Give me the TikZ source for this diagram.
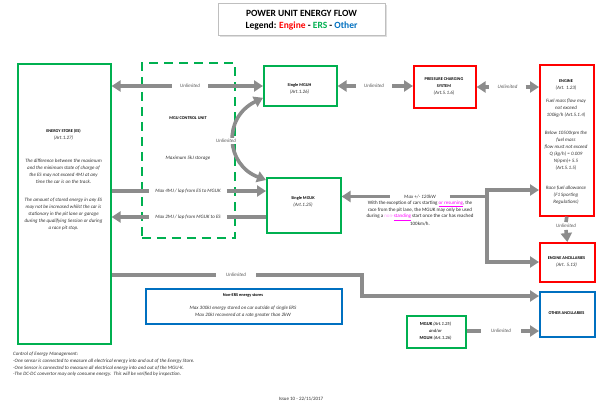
\documentclass[tikz,border=0pt]{standalone}
\usepackage{fontspec}
\setmainfont{Carlito}
\usetikzlibrary{arrows.meta,shadows,calc}
\definecolor{ggreen}{HTML}{00B050}
\definecolor{rred}{HTML}{FF0000}
\definecolor{bblue}{HTML}{0070C0}
\definecolor{agray}{HTML}{8C8C8C}
\definecolor{mag}{HTML}{FF00FF}
\begin{document}
\begin{tikzpicture}[x=1pt,y=-1pt,
  >={Triangle[length=9pt,width=11pt]},
  box/.style={line width=1.6pt,anchor=north west,inner sep=0pt,rectangle},
  gbox/.style={box,draw=ggreen},
  rbox/.style={box,draw=rred},
  bbox/.style={box,draw=bblue},
  dbox/.style={box,draw=ggreen,dash pattern=on 9pt off 6pt},
  arr/.style={draw=agray,line width=3.6pt},
  lbl/.style={font=\fontsize{5}{6}\selectfont\itshape,text=black!65,inner xsep=8pt,inner ysep=1pt},
  hd/.style={font=\fontsize{4.3}{7}\selectfont\bfseries,inner sep=0pt,align=center},
  it/.style={font=\fontsize{5}{7}\selectfont\itshape,text=black!80,inner sep=0pt,align=center},
  up/.style={font=\fontsize{5}{6.3}\selectfont,text=black!85,inner sep=0pt,align=center},
]
\useasboundingbox[fill=white] (0,0) rectangle (600,405);

% title
\node[box,draw=black!25,line width=0.6pt,fill=white,minimum width=167pt,minimum height=32pt,
  drop shadow={shadow xshift=1.2pt,shadow yshift=-1.2pt,opacity=0.25}] (title) at (218,3) {};
\node[font=\fontsize{9.5}{11}\selectfont\bfseries,inner sep=0pt] (t1) at (301.5,13) {POWER UNIT ENERGY FLOW};
\node[font=\fontsize{9.5}{11}\selectfont\bfseries,inner sep=0pt] (t2) at (301.5,26)
  {Legend: \textcolor{rred}{Engine} - \textcolor{ggreen}{ERS} - \textcolor{bblue}{Other}};

% boxes
\node[gbox,minimum width=93pt,minimum height=280pt] (es) at (17,63) {};
\node[dbox,minimum width=93pt,minimum height=175pt] (cu) at (141,62) {};
\node[gbox,minimum width=73pt,minimum height=40pt] (mguh) at (263,65) {};
\node[gbox,minimum width=74pt,minimum height=55pt] (mguk) at (266,177) {};
\node[rbox,minimum width=62pt,minimum height=42pt] (pcs) at (413,65) {};
\node[rbox,minimum width=54pt,minimum height=151pt] (engine) at (539,64) {};
\node[rbox,minimum width=55pt,minimum height=39pt] (ea) at (539,242) {};
\node[bbox,minimum width=55pt,minimum height=45pt] (oa) at (539,291) {};
\node[gbox,minimum width=59pt,minimum height=32pt] (small) at (406,315) {};
\node[bbox,minimum width=196pt,minimum height=35pt] (nonERS) at (145,288) {};

% texts in boxes
\node[hd] (esh) at (63.5,131) {ENERGY STORE (ES)};
\node[it] (esa) at (63.5,138) {(Art.1.27)};
\node[it,anchor=north] (esp1) at (63.5,158.5) {The difference between the maximum\\and the minimum state of charge of\\the ES may not exceed 4MJ at any\\time the car is on the track.};
\node[it,anchor=north] (esp2) at (63.5,197.5) {The amount of stored energy in any ES\\may not be increased whilst the car is\\stationary in the pit lane or garage\\during the qualifying Session or during\\a race pit stop.};

\node[hd] (cuh) at (188,118) {MGU CONTROL UNIT};
\node[it] (cus) at (188,158) {Maximum 5kJ storage};

\node[hd] (mguht) at (299.5,85) {Single MGUH};
\node[it] (mguha) at (299.5,92) {(Art.1.26)};
\node[hd] (mgukt) at (303,198) {Single MGUK};
\node[it] (mguka) at (303,205) {(Art.1.25)};

\node[hd,anchor=north] (pcst) at (444,77.5) {PRESSURE CHARGING\\SYSTEM};
\node[it] (pcsa) at (444,93) {(Art.5.1.6)};

\node[hd] (engt) at (566,81) {ENGINE};
\node[it,anchor=north] (enga) at (566,85.5) {(Art. 1.23)\\[6pt]Fuel mass flow may\\not exceed\\100kg/h (Art.5.1.4)\\[11pt]Below 10500rpm the\\fuel mass\\flow must not exceed\\Q (kg/h) = 0.009\\N(rpm)+ 5.5\\(Art.5.1.5)\\[13pt]Race fuel allowance\\(F1 Sporting\\Regulations)};

\node[hd] (eat) at (566.5,258) {ENGINE ANCILLARIES};
\node[it] (eaa) at (566.5,265) {(Art. 5.13)};
\node[hd] (oat) at (566.5,313) {OTHER ANCILLARIES};

\node[font=\fontsize{4.6}{7}\selectfont,inner sep=0pt,align=center,anchor=north] (smallt) at (435.5,321.5)
  {\textbf{MGUK} \textit{(Art.1.25)}\\\textit{and/or}\\\textbf{MGUH} \textit{(Art.1.26)}};

\node[hd] (net) at (243,295) {Non-ERS energy stores};
\node[it,anchor=north] (nep) at (243,305.5) {Max 300kJ energy stored on car outside of single ERS\\Max 20kJ recovered at a rate greater than 2kW};

% connectors
\node[lbl] (l1) at (190,86) {Unlimited};
\draw[arr,<-] (es.east |- l1) -- (l1.west);
\draw[arr,->] (l1.east) -- (mguh.west |- l1);

\node[lbl] (l2) at (374,86) {Unlimited};
\draw[arr,<-] (mguh.east |- l2) -- (l2.west);
\draw[arr,->] (l2.east) -- (pcs.west |- l2);

\node[lbl] (l3) at (507.5,87) {Unlimited};
\draw[arr,<-] (pcs.east |- l3) -- (l3.west);
\draw[arr,->] (l3.east) -- (engine.west |- l3);

\draw[arr,<->] ([shift={(0,3)}]mguk.north west) .. controls (226,165) and (222,118) .. ([shift={(0,12)}]mguh.west);
\node[lbl,fill=white,inner xsep=1pt] (l4) at (226,141) {Unlimited};

\node[lbl,text=black!80,inner xsep=6pt] (l5) at (188,191) {Max 4MJ / lap from ES to MGUK};
\draw[arr] (es.east |- l5) -- (l5.west);
\draw[arr,->] (l5.east) -- (mguk.west |- l5);

\node[lbl,text=black!80,inner xsep=6pt] (l6) at (188,217) {Max 2MJ / lap from MGUK to ES};
\draw[arr,<-] (es.east |- l6) -- (l6.west);
\draw[arr] (l6.east) -- (mguk.west |- l6);

\node[lbl,text=black!80,inner xsep=14pt] (l7) at (420,196.5) {Max +/- 120kW};
\node[up,anchor=north] (l7p) at (420,200.5) {With the exception of cars starting \textcolor{mag}{\underline{or resuming}}, the\\race from the pit lane, the MGUK may only be used\\during a \textcolor{mag!40}{non-}\textcolor{mag}{\underline{standing}} start once the car has reached\\100km/h.};
\coordinate (jt) at (487,188.2);
\coordinate (jb) at (487,262);
\coordinate (je) at (485.2,190);
\draw[arr,<-] (mguk.east |- l7) -- (l7.west);
\draw[arr] (l7.east) -- (jb |- l7);
\draw[arr,->] (jt) -- (jb) -- (ea.west |- jb);
\draw[arr,->] (je) -- (engine.west |- je);

\node[lbl,inner ysep=2pt] (l8) at (566,226) {Unlimited};
\draw[arr] (engine.south) -- (l8.north);
\draw[arr,->] (l8.south) -- (ea.north);

\coordinate (c1) at (362,275);
\coordinate (c2) at (362,296);
\node[lbl,inner xsep=10pt] (l9) at (236,275) {Unlimited};
\draw[arr] (es.east |- l9) -- (l9.west);
\draw[arr,->] (l9.east) -- (c1) -- (c2) -- (oa.west |- c2);

\node[lbl,inner xsep=10pt] (l10) at (501,331) {Unlimited};
\draw[arr] (small.east |- l10) -- (l10.west);
\draw[arr,->] (l10.east) -- (oa.west |- l10);

% footer
\node[font=\fontsize{5}{6.7}\selectfont\itshape,text=black!80,inner sep=0pt,align=left,anchor=north west] (ctrl) at (13,352)
 {Control of Energy Management:\\-One sensor is connected to measure all electrical energy into and out of the Energy Store.\\-One Sensor is connected to measure all electrical energy into and out of the MGU-K.\\-The DC-DC convertor may only consume energy.\ \ This will be verified by inspection.};
\node[font=\fontsize{5}{6}\selectfont,text=black!80,inner sep=0pt] (issue) at (301,399) {Issue 10 - 22/11/2017};
\end{tikzpicture}
\end{document}
